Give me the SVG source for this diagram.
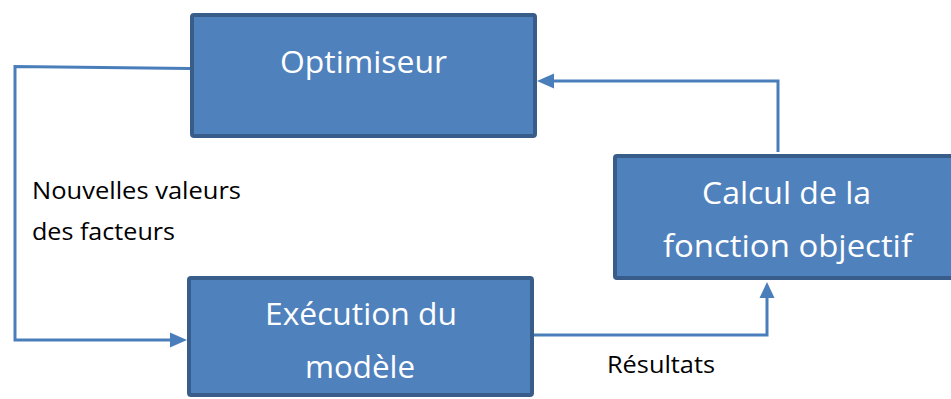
<svg xmlns="http://www.w3.org/2000/svg" width="951" height="399" viewBox="0 0 951 399">
<defs>
<style>
.box{fill:#4F81BD;stroke:#385D8A;stroke-width:4;}
.wt{font-family:"Open Sans","Noto Sans",sans-serif;font-size:31px;fill:#FFFFFF;text-anchor:middle;}
.bt{font-family:"Open Sans","Noto Sans",sans-serif;font-size:23px;fill:#000000;}
.con{fill:none;stroke:#4A7EBB;stroke-width:3;}
.ah{fill:#4A7EBB;}
</style>
</defs>
<rect width="951" height="399" fill="#FFFFFF"/>
<g id="connectors">
<polyline class="con" points="190,68.5 15,66.5 15,340 172,340"/>
<polygon class="ah" points="187,340 170,332.5 170,347.5"/>
<polyline class="con" points="778,152 778,81 552,81"/>
<polygon class="ah" points="537,81 554,73.5 554,88.5"/>
<polyline class="con" points="534,335 767,335 767,296"/>
<polygon class="ah" points="767,282 759.5,298 774.5,298"/>
</g>
<g id="optimiseur">
<rect class="box" x="192" y="15" width="343" height="121" rx="2"/>
<text class="wt" x="363.5" y="73" textLength="167" lengthAdjust="spacingAndGlyphs">Optimiseur</text>
</g>
<g id="execution">
<rect class="box" x="189" y="278" width="343" height="117" rx="2"/>
<text class="wt" x="361" y="325" textLength="192" lengthAdjust="spacingAndGlyphs">Exécution du</text>
<text class="wt" x="360" y="378" textLength="110" lengthAdjust="spacingAndGlyphs">modèle</text>
</g>
<g id="calcul">
<rect class="box" x="615" y="156" width="345" height="122" rx="2"/>
<text class="wt" x="786.5" y="204" textLength="169" lengthAdjust="spacingAndGlyphs">Calcul de la</text>
<text class="wt" x="787.5" y="257" textLength="249" lengthAdjust="spacingAndGlyphs">fonction objectif</text>
</g>
<g id="labels">
<text class="bt" x="32" y="199" textLength="209" lengthAdjust="spacingAndGlyphs">Nouvelles valeurs</text>
<text class="bt" x="32" y="240" textLength="143" lengthAdjust="spacingAndGlyphs">des facteurs</text>
<text class="bt" x="607" y="373" textLength="108" lengthAdjust="spacingAndGlyphs">Résultats</text>
</g>
</svg>
